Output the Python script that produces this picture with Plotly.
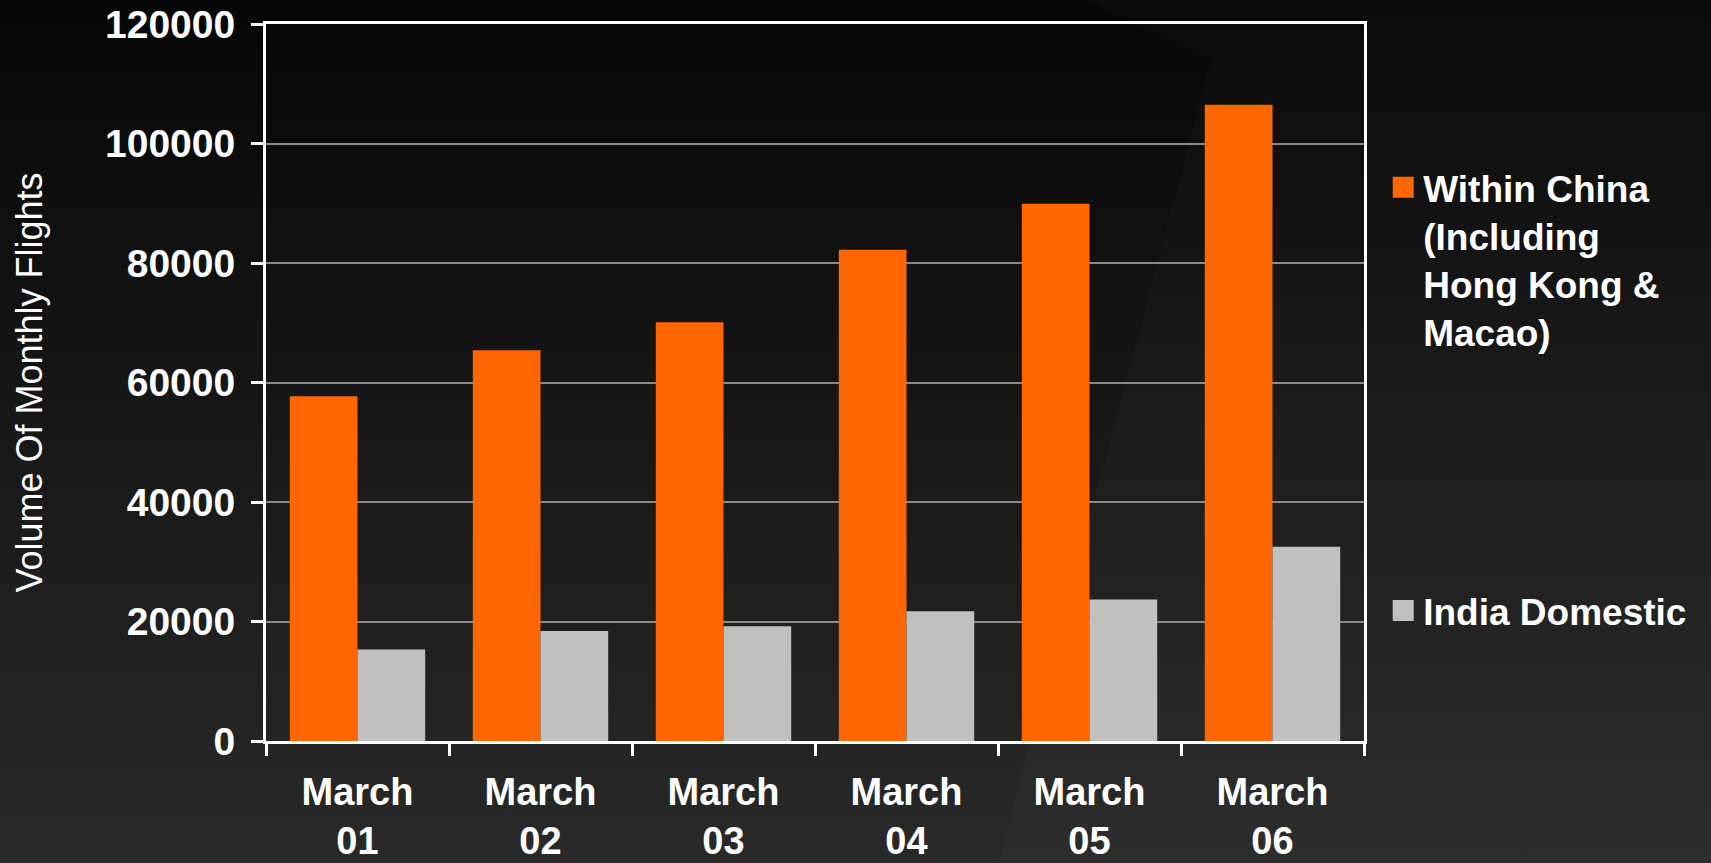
import base64
import plotly.graph_objects as go

# ---- data ----
categories = ["March 01", "March 02", "March 03", "March 04", "March 05", "March 06"]
tick_labels = ["March<br>01", "March<br>02", "March<br>03", "March<br>04", "March<br>05", "March<br>06"]
china_name = "Within China<br>(Including<br>Hong Kong &<br>Macao)"
china = [57700, 65400, 70100, 82200, 89900, 106500]
india_name = "India Domestic"
india = [15300, 18400, 19200, 21700, 23700, 32500]
y_ticks = [0, 20000, 40000, 60000, 80000, 100000, 120000]

W, H = 1711, 863
ML, MR, MT, MB = 266, 347, 24, 122
PW, PH = W - ML - MR, H - MT - MB

ORANGE = "#FF6600"
GREY = "#C0C0C0"
FONT = "Liberation Sans, Arial, sans-serif"

# background: dark vertical gradient with a faint diagonal panel
svg = f'''<svg xmlns="http://www.w3.org/2000/svg" width="{W}" height="{H}" viewBox="0 0 {W} {H}" preserveAspectRatio="none">
<defs><linearGradient id="g" x1="0" y1="0" x2="0" y2="1">
<stop offset="0" stop-color="#060606"/><stop offset="1" stop-color="#292929"/></linearGradient></defs>
<rect width="{W}" height="{H}" fill="url(#g)"/>
<polygon points="1087,0 {W},0 {W},{H} 998,{H} 1211,60" fill="#ffffff" fill-opacity="0.018"/>
</svg>'''
bg_src = "data:image/svg+xml;base64," + base64.b64encode(svg.encode()).decode()

fig = go.Figure()
fig.add_bar(x=categories, y=china, name=china_name, marker=dict(color=ORANGE, line=dict(width=0)),
            showlegend=False, legendgroup="china")
fig.add_bar(x=categories, y=india, name=india_name, marker=dict(color=GREY, line=dict(width=0)),
            showlegend=False, legendgroup="india")
# legend entries (large square swatches)
fig.add_scatter(x=[None], y=[None], mode="markers", name=china_name, legend="legend", legendgroup="china",
                marker=dict(symbol="square", size=16, color=ORANGE, line=dict(color=ORANGE, width=5)))
fig.add_scatter(x=[None], y=[None], mode="markers", name=india_name, legend="legend2", legendgroup="india",
                marker=dict(symbol="square", size=16, color=GREY, line=dict(color=GREY, width=5)))

legend_common = dict(xanchor="left", bgcolor="rgba(0,0,0,0)", borderwidth=0, valign="top",
                     font=dict(family=FONT, size=37, color="white", weight="bold"))

fig.update_layout(
    width=W, height=H,
    margin=dict(l=ML, r=MR, t=MT, b=MB, pad=0, autoexpand=False),
    paper_bgcolor="#181818",
    plot_bgcolor="rgba(0,0,0,0)",
    font=dict(family=FONT, color="white"),
    barmode="group", bargap=0.26, bargroupgap=0,
    images=[dict(source=bg_src, xref="paper", yref="paper", x=-ML / PW, y=1 + MT / PH,
                 sizex=W / PW, sizey=H / PH, xanchor="left", yanchor="top",
                 sizing="stretch", layer="below")],
    legend=dict(x=1.0175, y=0.815, yanchor="top", **legend_common),
    legend2=dict(x=1.0175, y=0.1813, yanchor="middle", **legend_common),
    xaxis=dict(
        type="category", tickmode="array", tickvals=categories, ticktext=tick_labels,
        tickson="boundaries", ticks="outside", ticklen=12, tickwidth=3, tickcolor="white",
        showline=True, linecolor="white", linewidth=3, mirror=True, showgrid=False,
        ticklabelstandoff=15,
        tickfont=dict(family=FONT, size=38, color="white", weight="bold"),
    ),
    yaxis=dict(
        range=[0, 120000], tickmode="array", tickvals=y_ticks, tickformat="d",
        ticks="outside", ticklen=12, tickwidth=3, tickcolor="white",
        showline=True, linecolor="white", linewidth=3, mirror=True,
        showgrid=True, gridcolor="#8a8a8a", gridwidth=2, zeroline=False,
        ticklabelstandoff=8,
        tickfont=dict(family=FONT, size=39, color="white", weight="bold"),
        title=dict(text="Volume Of Monthly Flights", standoff=52,
                   font=dict(family=FONT, size=36, color="white")),
    ),
)

fig.write_html("out.html", config={"displayModeBar": False},
               post_script="document.body.style.margin='0';")
